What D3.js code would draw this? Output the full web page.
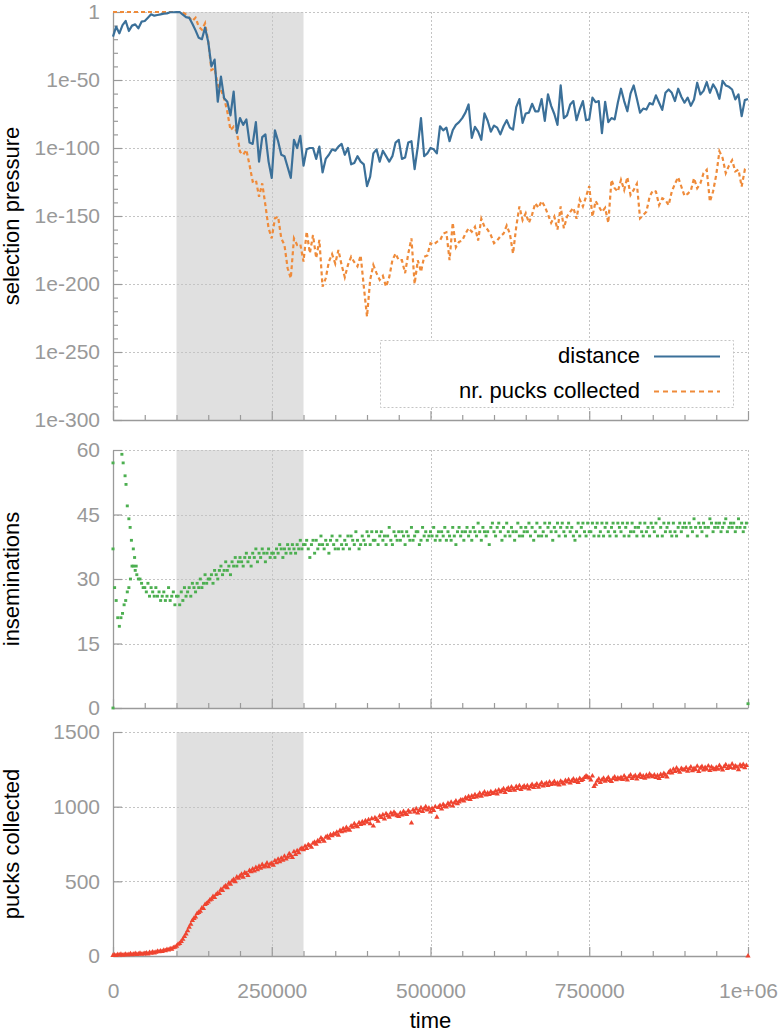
<!DOCTYPE html>
<html><head><meta charset="utf-8">
<script src="https://cdn.jsdelivr.net/npm/d3@7"></script>
<style>
html,body{margin:0;padding:0;background:#fff;}
svg{display:block;font-family:"Liberation Sans",Arial,Helvetica,sans-serif;}
</style></head><body>
<svg id="c" width="783" height="1032"></svg>
<script>
// ---------- data ----------
const timeTicks = [0, 250000, 500000, 750000, 1000000];
const timeTickLabels = ["0", "250000", "500000", "750000", "1e+06"];
const timeMinorTicks = [50000,100000,150000,200000,300000,350000,400000,450000,550000,600000,650000,700000,800000,850000,900000,950000];
const shadeRange = [100000, 300000];

// selection pressure, stored as base-10 exponents, one sample every 5000 steps
const pressureStep = 5000;
const distanceExp = [
 -18.1,-10.8,-15.7,-9.6,-6.6,-14,-10,-9.1,-12,-7.1,
 -6.6,-4.2,-1.7,-2.7,-2.2,-1.7,-1.2,-1,-0.2,-0.2,
 -0.1,0,-2,-3.8,-4.3,-8.6,-13.5,-19,-20,-11.5,
 -22,-40,-35,-66,-47.5,-63.5,-66,-76,-58.6,-89,
 -78,-83,-79,-96,-97,-81,-110,-92,-90,-110,
 -122,-87,-95,-105,-106,-114,-122,-94,-100,-91,
 -113,-101,-100,-100,-108,-99,-118,-108,-105,-101,
 -102,-99,-97,-105,-100,-112,-111,-106,-110,-112,
 -128,-121,-104,-101,-110,-102,-106,-110,-106,-96,
 -94,-108,-107,-96,-95,-115.5,-99,-78,-106,-104,
 -100,-101,-104,-84,-87,-85,-95,-87,-83,-81,
 -78,-74,-68,-92.6,-84.5,-88,-94,-74.6,-80,-88,
 -83.5,-85,-90,-84,-79.6,-85,-86.5,-70,-64,-81.5,
 -74.6,-74,-67.5,-73,-73,-64,-80,-60.6,-69,-75,
 -83,-54,-78,-76,-68,-65.5,-79.6,-71.7,-65.5,-79.6,
 -79,-63,-66.3,-65.5,-89,-66,-81,-78,-79,-66.7,
 -56.4,-65.5,-73,-60,-54,-63.8,-74,-71,-71.7,-67,
 -68,-61.3,-66.7,-72,-59.4,-57,-59.4,-65.5,-56.4,-62.3,
 -66.7,-63,-69,-64.3,-52,-60.6,-58,-51.5,-59.4,-53.2,
 -57,-63.8,-50.7,-54,-55,-57,-64.3,-60.6,-76.6,-64.8,
 -64];
const pucksExp = [
 0,0,0,0,0,0,0,0,0,0,
 0,0,0,0,0,0,0,0,0,0,
 0,0,-0.3,-2,-4,-6.6,-4.2,-10.8,-13,-8.3,
 -21.8,-42.6,-41.4,-53.7,-57.3,-63.5,-73.2,-86.8,-84.3,-88,
 -102.7,-105,-101.4,-112.5,-124.7,-123.5,-135.8,-126,-142,-159,
 -166.4,-151.7,-150.5,-166.4,-171.3,-188.4,-195.8,-166.4,-171.3,-170.8,
 -183.5,-161.5,-177.4,-164,-181,-167.6,-202,-195.8,-183.5,-178,
 -185,-175,-186,-195,-186,-180,-184,-187,-179,-202,
 -224,-197,-186,-192,-197,-194,-202,-195,-182.5,-177.6,
 -182.5,-182.5,-192,-177.6,-166.5,-200,-182.5,-191,-180,-179,
 -170,-171,-169,-168,-163,-162,-182.5,-155,-173,-169,
 -168,-163,-159,-161.6,-158,-168,-152,-158,-160,-164,
 -170,-168,-165,-163,-157,-163,-177.6,-158,-143,-153,
 -148,-155,-149,-140.6,-144,-139,-143,-149,-155,-150.5,
 -160,-143,-159,-150.5,-147,-144,-152,-138,-143,-135.7,
 -128,-150.5,-139,-143,-147,-144,-155,-123.4,-129.6,-132,
 -123.4,-130.8,-121.5,-134.5,-130.8,-126.3,-151.7,-149.3,-146.8,-136,
 -131.3,-132,-142,-137,-138.2,-142,-132,-126.3,-121.5,-128.3,
 -135.2,-133.7,-131.3,-122.2,-129.6,-126,-118.5,-116,-139.4,-132,
 -119.7,-102.5,-107.4,-118.5,-113,-109,-117.2,-116,-128.3,-116,
 -117.2];
const pressureTickExp = [0, -50, -100, -150, -200, -250, -300];
const pressureTickLabels = ["1", "1e-50", "1e-100", "1e-150", "1e-200", "1e-250", "1e-300"];
const pressureMinorExp = [-10,-20,-30,-40,-60,-70,-80,-90,-110,-120,-130,-140,-160,-170,-180,-190,-210,-220,-230,-240,-260,-270,-280,-290];
const seriesNames = ["distance", "nr. pucks collected"];

// inseminations: regular samples every 2500 steps starting at t = 2500
const insemStep = 2500;
const insemValues = [
 28,25,21,19,21,22,24,25,27,28,30,33,33,32,31,30,30,29,28,28,
 27,29,26,28,27,26,28,26,27,25,26,27,25,26,28,25,26,27,24,26,
 26,24,27,25,28,26,27,28,26,29,28,27,29,28,30,28,29,31,29,30,
 30,31,29,32,31,30,32,33,31,32,34,32,33,31,34,33,35,33,34,35,
 34,33,35,36,34,35,33,36,35,37,34,36,35,37,36,34,36,37,35,36,
 36,35,37,36,38,37,35,37,36,38,37,36,38,37,36,38,37,39,37,38,
 38,39,37,35,38,39,36,39,37,38,40,38,37,39,38,36,39,40,38,37,
 39,37,40,38,37,39,38,40,37,40,39,38,41,39,37,38,40,39,38,41,
 40,38,41,39,39,41,38,40,41,39,40,38,40,42,39,38,41,40,39,41,
 39,41,40,38,41,40,39,42,39,40,41,41,38,39,42,40,41,39,40,41,
 40,42,39,40,41,39,41,40,42,39,41,40,39,42,40,38,41,42,40,41,
 39,41,42,40,41,39,42,41,40,43,41,39,42,41,40,41,38,42,43,41,
 40,42,43,41,39,42,40,43,41,40,42,41,39,41,43,40,42,40,41,42,
 41,43,40,42,39,41,43,40,42,40,41,43,40,42,43,41,39,42,41,43,
 40,42,43,41,40,42,43,41,42,40,39,41,43,40,42,43,41,40,43,41,
 41,43,40,42,43,40,41,43,40,42,43,41,40,42,43,41,40,43,42,41,
 43,40,42,43,40,41,43,41,42,40,42,43,41,40,43,41,42,40,43,42,
 41,43,40,44,42,40,43,41,42,43,41,40,43,41,40,42,43,41,42,43,
 42,40,43,42,41,44,42,40,43,42,41,43,42,40,42,44,43,41,42,43,
 42,43,41,42,43,44,41,42,43,42,43,41,42,44,42,43,41,42,43];
// irregular inseminations samples (start of run, descending branch, final sample)
const insemExtraTimes = [0, 0, 0, 14000, 16000, 19000, 20500, 22500, 25000, 27000, 29000, 32000, 34000, 36500, 1000000];
const insemExtraValues = [0, 57, 37, 59, 57, 54, 52, 47, 44, 42, 39, 37, 35, 33, 1];
const insemTicks = [0, 15, 30, 45, 60];

// pucks collected: samples every 2500 steps starting at t = 0
const pucksStep = 2500;
const pucksValues = [
 4,7,3,9,6,11,5,8,12,7,10,14,9,12,16,11,13,18,12,15,
 16,20,14,24,19,27,21,25,31,28,33,30,38,35,43,40,48,46,55,58,
 66,78,84,98,112,130,148,170,192,212,238,252,262,285,292,300,322,318,345,352,
 362,375,380,398,392,412,420,418,445,438,462,470,458,488,480,502,512,498,528,520,
 535,548,528,558,552,540,572,565,582,570,592,578,600,588,612,596,605,622,598,615,
 620,608,638,625,648,632,655,642,668,650,662,685,672,660,698,680,705,692,715,722,
 712,735,720,745,738,728,755,762,748,772,765,790,778,768,795,802,788,812,805,818,
 815,828,808,840,832,852,838,860,848,842,870,862,885,872,865,892,880,898,885,905,
 895,912,885,920,870,925,915,902,938,928,945,918,952,940,930,958,945,962,950,940,
 935,958,945,968,955,948,972,962,890,978,965,985,958,975,992,968,985,1000,978,990,
 965,988,975,1000,930,995,1008,985,1015,1002,998,1022,1010,1030,1005,1025,1038,1020,1032,1045,
 1045,1038,1060,1052,1068,1048,1072,1062,1080,1065,1075,1090,1070,1085,1098,1078,1092,1082,1100,1088,
 1092,1105,1085,1112,1098,1108,1120,1095,1115,1125,1108,1132,1118,1110,1135,1122,1140,1115,1128,1138,
 1125,1140,1118,1135,1148,1128,1142,1152,1130,1145,1160,1138,1150,1158,1142,1165,1148,1155,1168,1150,
 1158,1145,1170,1160,1152,1175,1165,1180,1158,1172,1185,1168,1178,1162,1188,1175,1182,1195,1205,1198,
 1192,1178,1205,1135,1150,1172,1185,1162,1178,1190,1170,1182,1195,1175,1168,1188,1198,1180,1192,1185,
 1195,1182,1205,1190,1178,1200,1212,1188,1198,1208,1185,1202,1215,1195,1205,1190,1210,1198,1218,1205,
 1200,1212,1195,1208,1188,1215,1202,1222,1210,1198,1228,1240,1225,1250,1235,1258,1242,1230,1255,1248,
 1245,1260,1238,1252,1265,1240,1255,1248,1270,1235,1258,1268,1245,1262,1250,1272,1242,1265,1255,1248,
 1262,1250,1275,1258,1245,1268,1280,1255,1270,1262,1285,1258,1272,1265,1248,1278,1268,1282,1260,1275];
const pucksExtraTimes = [1000000];
const pucksExtraValues = [0];
const pucksTicks = [0, 500, 1000, 1500];

// ---------- drawing ----------
const C = {
  blue: "#3b7099", orange: "#ef8b3a", green: "#4caf50", red: "#ef4430",
  axis: "#9a9a9a", grid: "#c4c4c4", shade: "#e0e0e0", label: "#999999"
};
const svg = d3.select("#c");
const x = d3.scaleLinear().domain([0, 1e6]).range([113, 748]);

const yP = d3.scaleLog().domain([1e-300, 1]).range([420, 12]);
const yI = d3.scaleLinear().domain([0, 60]).range([708, 450]);
const yC = d3.scaleLinear().domain([0, 1500]).range([956, 732]);

function panel(y, majors, labels, minors, title, showX) {
  const [bot, top] = y.range();
  const g = svg.append("g");
  g.append("rect").attr("x", x(shadeRange[0])).attr("y", top)
    .attr("width", x(shadeRange[1]) - x(shadeRange[0])).attr("height", bot - top)
    .attr("fill", C.shade);
  const grid = g.append("g").attr("stroke", C.grid).attr("stroke-width", 1).attr("stroke-dasharray", "2,2").attr("fill", "none");
  majors.forEach(v => {
    const yy = Math.round(y(v)) + 0.5;
    if (Math.abs(y(v) - bot) > 1) grid.append("line").attr("x1", x(0)).attr("x2", x(1e6)).attr("y1", yy).attr("y2", yy);
  });
  timeTicks.slice(1).forEach(t => {
    const xx = Math.round(x(t)) + 0.5;
    grid.append("line").attr("x1", xx).attr("x2", xx).attr("y1", top).attr("y2", bot);
  });
  g.append("g").attr("transform", `translate(${x(0)},0)`)
    .call(d3.axisLeft(y).tickValues(majors).tickSize(-9).tickSizeOuter(0).tickPadding(13)
      .tickFormat((d, i) => labels[i]));
  if (minors) g.append("g").attr("transform", `translate(${x(0)},0)`)
    .call(d3.axisLeft(y).tickValues(minors).tickSize(-5).tickSizeOuter(0).tickFormat(""))
    .call(s => s.select(".domain").remove());
  g.append("g").attr("transform", `translate(0,${bot})`)
    .call(d3.axisBottom(x).tickValues(timeTicks).tickSize(-9).tickSizeOuter(0).tickPadding(27)
      .tickFormat((d, i) => showX ? timeTickLabels[i] : ""));
  g.append("g").attr("transform", `translate(0,${bot})`)
    .call(d3.axisBottom(x).tickValues(timeMinorTicks).tickSize(-5).tickSizeOuter(0).tickFormat(""))
    .call(s => s.select(".domain").remove());
  g.selectAll(".domain").attr("stroke", C.axis).attr("stroke-width", 1.3);
  g.selectAll(".tick line").attr("stroke", C.axis).attr("stroke-width", 1.2);
  g.selectAll(".tick text").attr("fill", C.label).attr("font-size", 21)
    .attr("font-family", '"Liberation Sans",Arial,sans-serif');
  svg.append("text").attr("transform", `translate(19,${(top + bot) / 2}) rotate(-90)`)
    .attr("text-anchor", "middle").attr("font-size", 22).attr("fill", "#000").text(title);
  return g;
}

// top panel
const g1 = panel(yP, pressureTickExp.map(e => Math.pow(10, e)), pressureTickLabels,
  pressureMinorExp.map(e => Math.pow(10, e)), "selection pressure", false);
const line = d3.line().x((d, i) => x(i * pressureStep)).y(d => yP(Math.pow(10, d)));
g1.append("path").datum(pucksExp).attr("d", line).attr("fill", "none")
  .attr("stroke", C.orange).attr("stroke-width", 2.2).attr("stroke-dasharray", "4,3");
g1.append("path").datum(distanceExp).attr("d", line).attr("fill", "none")
  .attr("stroke", C.blue).attr("stroke-width", 2.2).attr("stroke-linejoin", "round");

// legend
const lg = svg.append("g");
lg.append("rect").attr("x", 380.5).attr("y", 340.5).attr("width", 353).attr("height", 67)
  .attr("fill", "#fff").attr("stroke", C.grid).attr("stroke-dasharray", "2,2");
[[C.blue, null, 356.5], [C.orange, "5,4", 391.5]].forEach((s, i) => {
  lg.append("text").attr("x", 640).attr("y", s[2] + 6.5).attr("text-anchor", "end")
    .attr("font-size", 22).attr("fill", "#000").text(seriesNames[i]);
  lg.append("line").attr("x1", 654).attr("x2", 720).attr("y1", s[2]).attr("y2", s[2])
    .attr("stroke", s[0]).attr("stroke-width", 2).attr("stroke-dasharray", s[1]);
});

// middle panel
const g2 = panel(yI, insemTicks, insemTicks.map(String), null, "inseminations", false);
const insemPts = insemValues.map((v, i) => [insemStep * (i + 1), v])
  .concat(insemExtraTimes.map((t, i) => [t, insemExtraValues[i]]));
g2.append("g").attr("fill", C.green).selectAll("rect").data(insemPts).join("rect")
  .attr("x", d => x(d[0]) - 1.5).attr("y", d => yI(d[1]) - 1.4).attr("width", 3).attr("height", 2.8);

// bottom panel
const g3 = panel(yC, pucksTicks, pucksTicks.map(String), null, "pucks collected", true);
const pucksPts = pucksValues.map((v, i) => [pucksStep * i, v])
  .concat(pucksExtraTimes.map((t, i) => [t, pucksExtraValues[i]]));
const tri = d3.symbol().type(d3.symbolTriangle).size(12);
g3.append("g").attr("fill", C.red).selectAll("path").data(pucksPts).join("path")
  .attr("d", tri).attr("transform", d => `translate(${x(d[0])},${yC(d[1])})`);

svg.append("text").attr("x", (x(0) + x(1e6)) / 2).attr("y", 1028).attr("text-anchor", "middle")
  .attr("font-size", 22).attr("fill", "#000").text("time");
</script>
</body></html>
